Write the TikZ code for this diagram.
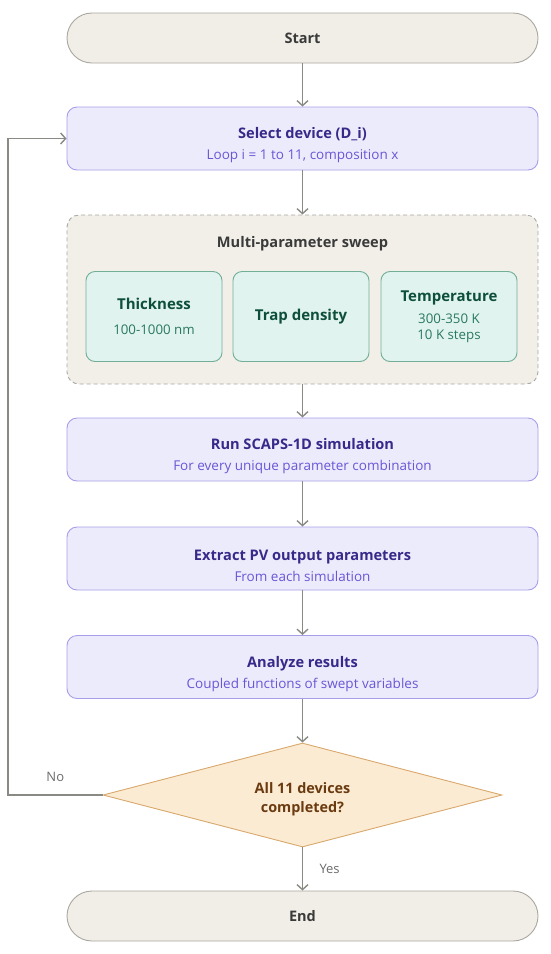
\documentclass[tikz,border=0pt]{standalone}
\usepackage{fontspec}
\setmainfont{Open Sans}
\usetikzlibrary{arrows.meta,shapes.geometric}
\definecolor{termfill}{HTML}{F1EEE7}
\definecolor{termline}{HTML}{A9A79F}
\definecolor{termtext}{HTML}{3A3A3A}
\definecolor{procfill}{HTML}{ECEBFC}
\definecolor{procline}{HTML}{A79EEA}
\definecolor{proctitle}{HTML}{36298A}
\definecolor{procsub}{HTML}{6A55D6}
\definecolor{sweepfill}{HTML}{F2EFE9}
\definecolor{sweepline}{HTML}{A8A8A4}
\definecolor{parfill}{HTML}{E0F3EE}
\definecolor{parline}{HTML}{72AE98}
\definecolor{partitle}{HTML}{0E4F3B}
\definecolor{parsub}{HTML}{2A7860}
\definecolor{decfill}{HTML}{FCEBD3}
\definecolor{decline}{HTML}{D8A86C}
\definecolor{dectext}{HTML}{6A3A10}
\definecolor{linkgray}{HTML}{8A8A85}
\begin{document}
\begin{tikzpicture}[x=1pt,y=-1pt,
    term/.style={draw=termline, line width=0.9pt, fill=termfill, rounded corners=25pt,
        minimum width=471pt, minimum height=50pt, text=termtext,
        font=\bfseries\fontsize{14.5}{17}\selectfont},
    proc/.style={draw=procline, line width=0.9pt, fill=procfill, rounded corners=10pt,
        minimum width=471pt, minimum height=63pt, align=center, text=procsub,
        font=\fontsize{13.5}{21}\selectfont},
    parbox/.style={draw=parline, line width=0.9pt, fill=parfill, rounded corners=9pt,
        minimum width=136pt, minimum height=90pt, align=center, text=parsub,
        font=\fontsize{13.3}{16}\selectfont},
    link/.style={draw=linkgray, line width=1.4pt, -{Straight Barb[length=5pt,width=11pt]}},
    lbl/.style={text=termtext!75, font=\fontsize{13}{15}\selectfont}]
    \useasboundingbox (0,0) rectangle (550,954);
    \node[term] (start) at (302.5,38) {Start};
    \node[proc] (sel) at (302.5,138.5) {\rule{0pt}{25pt}{\color{proctitle}\bfseries\fontsize{14.6}{21}\selectfont Select device (D\_i)}\\
        Loop i = 1 to 11, composition x};
    \node[draw=sweepline, line width=0.9pt, dashed, dash pattern=on 4pt off 3pt, fill=sweepfill,
        rounded corners=12pt, minimum width=471pt, minimum height=169pt] (sweep) at (302.5,299.5) {};
    \node[text=termtext, font=\bfseries\fontsize{14.6}{17}\selectfont] (sweeptitle) at (302.5,244) {Multi-parameter sweep};
    \foreach \x/\n/\t in {154/thick/{{\color{partitle}\bfseries\fontsize{15}{18}\selectfont Thickness}\\[9pt]100-1000 nm},
        301/trap/{{\color{partitle}\bfseries\fontsize{15}{18}\selectfont Trap density}},
        449/temp/{{\color{partitle}\bfseries\fontsize{15}{18}\selectfont Temperature}\\[6pt]300-350 K\\10 K steps}}
        \node[parbox] (\n) at (\x,316.5) {\t};
    \foreach \y/\n/\a/\b in {449.5/run/Run SCAPS-1D simulation/For every unique parameter combination,
        558.5/extract/Extract PV output parameters/From each simulation,
        667/analyze/Analyze results/Coupled functions of swept variables}
        \node[proc] (\n) at (302.5,\y) {\rule{0pt}{25pt}{\color{proctitle}\bfseries\fontsize{14.6}{21}\selectfont \a}\\ \b};
    \node[diamond, aspect=3.84, draw=decline, line width=0.9pt, fill=decfill, inner sep=0pt,
        minimum width=399pt, minimum height=104pt, align=center, text=dectext,
        font=\bfseries\fontsize{14.4}{19}\selectfont] (dec) at (302.5,795) {\rule{0pt}{20pt}All 11 devices\\completed?};
    \node[term] (end) at (302.5,916) {End};
    \coordinate (back) at (8,795);
    \draw[link] (start) -- (sel);
    \draw[link] (sel) -- (sweep);
    \draw[link] (sweep) -- (run);
    \draw[link] (run) -- (extract);
    \draw[link] (extract) -- (analyze);
    \draw[link] (analyze) -- (dec);
    \draw[link] (dec) -- node[lbl, right=13pt] {Yes} (end);
    \draw[link] (dec.west) -- node[lbl, above=9pt] {No} (back) |- (sel.west);
\end{tikzpicture}
\end{document}
